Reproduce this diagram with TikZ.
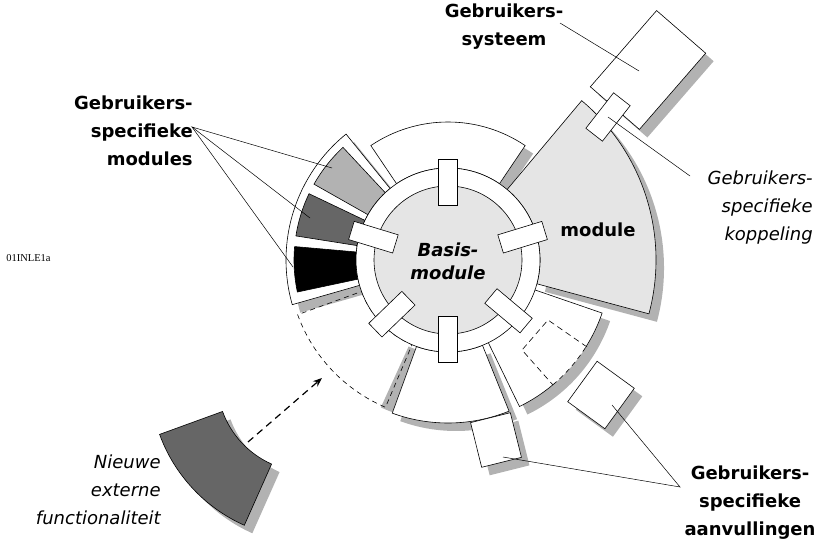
\documentclass[tikz,border=0pt]{standalone}
\usepackage{fontspec}
\setmainfont{DejaVu Sans}
\newfontfamily\serifa{Liberation Serif}
\usetikzlibrary{arrows.meta}
\definecolor{shd}{gray}{0.7}
\definecolor{lgr}{gray}{0.9}
\definecolor{mgr}{gray}{0.7}
\definecolor{dgr}{gray}{0.4}
\newcommand{\mysec}[5]{\path[#1] (#2:#4) arc[start angle=#2,end angle=#3,radius=#4] -- (#3:#5) arc[start angle=#3,end angle=#2,radius=#5] -- cycle;}
\begin{document}
\begin{tikzpicture}[x=1pt,y=1pt,line width=0.6pt,
  tab/.style={draw=black,fill=white,rectangle,inner sep=0pt,minimum width=46pt,minimum height=19pt},
  boxs/.style={draw=none,fill=shd,rectangle,inner sep=0pt},
  boxw/.style={draw=black,fill=white,rectangle,inner sep=0pt},
  lbl/.style={font=\fontsize{18}{28}\selectfont\bfseries,align=center,inner sep=0pt},
  ilbl/.style={font=\fontsize{18}{28}\selectfont\itshape,inner sep=0pt},
  lead/.style={draw=black,line width=0.5pt}]
\useasboundingbox (0,0) rectangle (819,544);
\coordinate (C) at (448,284);
\coordinate (C2) at (309,164);

% ---------- shadows ----------
\begin{scope}[shift={(C)}]
 \mysec{fill=shd,shift={(8,-8)}}{56}{124}{92pt}{138pt}
 \mysec{fill=shd,shift={(8,-8)}}{-15}{50}{92pt}{208pt}
 \mysec{fill=shd,shift={(8,-8)}}{129}{196}{92pt}{162pt}
 \mysec{fill=shd,shift={(8,-8)}}{250}{292}{92pt}{163pt}
 \mysec{fill=shd,shift={(8,-8)}}{296}{341}{92pt}{163pt}
 \mysec{fill=shd}{245.5}{250}{95pt}{162pt}
\end{scope}
\begin{scope}[shift={(C2)}]
 \mysec{fill=shd,shift={(8,-8)}}{200}{246}{92pt}{159pt}
\end{scope}
\node[boxs,rotate=49,minimum width=101pt,minimum height=65pt] (sysS) at (656,466) {};
\node[boxs,rotate=14,minimum width=41pt,minimum height=46pt] (sq1S) at (504,96) {};
\node[boxs,rotate=-36,minimum width=46pt,minimum height=50pt] (sq2S) at (609,141) {};

% ---------- pieces ----------
\node[boxw,rotate=49,minimum width=101pt,minimum height=65pt] (sys) at (648,474) {};
\begin{scope}[shift={(C)}]
 \mysec{draw,fill=lgr}{-15}{50}{92pt}{208pt}
 \mysec{draw,fill=white}{56}{124}{92pt}{138pt}
 \mysec{draw,fill=white}{129}{196}{92pt}{162pt}
 \mysec{draw,fill=mgr}{133}{150.5}{92pt}{154pt}
 \mysec{draw,fill=dgr}{154.5}{171}{92pt}{154pt}
 \mysec{draw,fill=black}{175}{192}{92pt}{154pt}
 \mysec{draw,dash pattern=on 5pt off 4pt}{200}{247}{92pt}{160pt}
 \mysec{draw,fill=white}{250}{292}{92pt}{163pt}
 \mysec{fill=white}{296}{341}{92pt}{163pt}
 \draw (296:92pt) -- (296:163pt) arc[start angle=296,end angle=310,radius=163pt];
 \draw[dash pattern=on 5pt off 4pt] (310:163pt) arc[start angle=310,end angle=328,radius=163pt];
 \draw (328:163pt) arc[start angle=328,end angle=341,radius=163pt] -- (341:92pt);
\end{scope}
\draw[dash pattern=on 6pt off 4pt] (587,197) -- (548,224) -- (522,194) -- (553,159);
\node[boxw,rotate=14,minimum width=41pt,minimum height=46pt] (sq1) at (496,104) {};
\node[boxw,rotate=-36,minimum width=46pt,minimum height=50pt] (sq2) at (601,149) {};
\begin{scope}[shift={(C2)}]
 \mysec{draw,fill=dgr}{200}{246}{92pt}{159pt}
\end{scope}

% ---------- ring and base ----------
\fill[white,draw=black] (C) circle[radius=92pt];
\fill[lgr,draw=black] (C) circle[radius=74pt];
\node[tab,rotate=90]  (t1) at ([shift={(C)}]90:78pt) {};
\node[tab,rotate=17]  (t2) at ([shift={(C)}]17:78pt) {};
\node[tab,rotate=-40] (t3) at ([shift={(C)}]-40:79pt) {};
\node[tab,rotate=-90] (t4) at ([shift={(C)}]-90:79pt) {};
\node[tab,rotate=-136] (t5) at ([shift={(C)}]-136:78pt) {};
\node[tab,rotate=163] (t6) at ([shift={(C)}]163:78pt) {};
\node[boxw,rotate=52,minimum width=45pt,minimum height=21pt] (kop) at (608,427) {};

% ---------- labels ----------
\node[lbl] (lsys) at (504,517) {Gebruikers-\\systeem};
\node[lbl,align=right,anchor=east] (lmod) at (193,413) {Gebruikers-\\specifieke\\modules};
\node[ilbl,align=right,anchor=east] (lkop) at (813,336) {Gebruikers-\\specifieke\\koppeling};
\node[ilbl,align=right,anchor=east] (lnew) at (161,54) {Nieuwe\\externe\\functionaliteit};
\node[lbl] (laan) at (750,41) {Gebruikers-\\specifieke\\aanvullingen};
\node[lbl] (lmodule) at (598,314) {module};
\node[font=\fontsize{18}{23}\selectfont\bfseries\itshape,align=center,inner sep=0pt] (lbasis) at (448,283) {Basis-\\module};
\node[font=\serifa\fontsize{10.5}{12}\selectfont,inner sep=0pt,anchor=west] (code) at (6,286) {01INLE1a};

% ---------- leaders ----------
\coordinate (a1) at (560,521); \coordinate (a2) at (639,473);
\draw[lead] (a1) -- (a2);
\coordinate (m0) at (192,417);
\coordinate (m1) at (332,376); \coordinate (m2) at (310,326); \coordinate (m3) at (293,277);
\draw[lead] (m1) -- (m0) -- (m2); \draw[lead] (m0) -- (m3);
\coordinate (k0) at (690,368);
\draw[lead] (k0) -- (kop.center);
\coordinate (v0) at (680,57); \coordinate (v1) at (503,87); \coordinate (v2) at (612,139);
\draw[lead] (v1) -- (v0) -- (v2);

% ---------- arrow ----------
\coordinate (arrS) at (248,102); \coordinate (arrE) at (322,166);
\draw[line width=1.2pt,dash pattern=on 7pt off 5pt,-{Stealth[length=9pt,width=7pt]}] (arrS) -- (arrE);
\end{tikzpicture}
\end{document}
